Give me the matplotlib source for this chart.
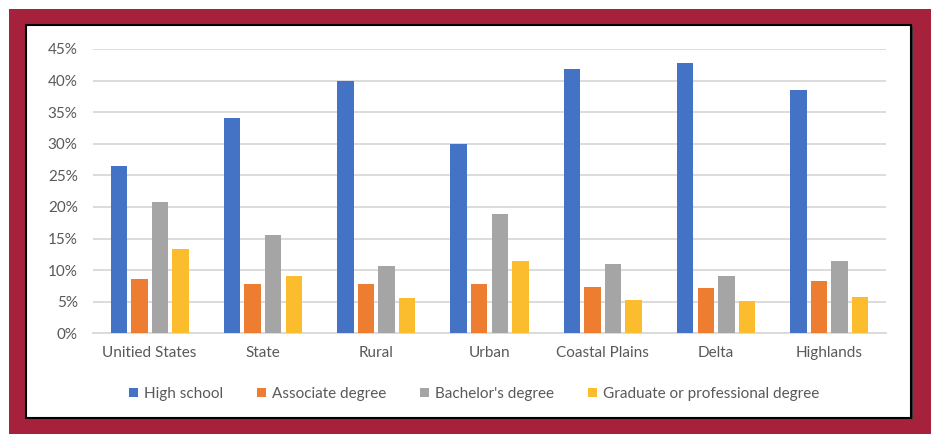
import matplotlib.pyplot as plt
import numpy as np
from matplotlib.patches import Rectangle, Patch
from matplotlib.ticker import PercentFormatter

regions = ['Unitied States', 'State', 'Rural', 'Urban', 'Coastal Plains', 'Delta', 'Highlands']
series = ['High school', 'Associate degree', "Bachelor's degree", 'Graduate or professional degree']
high_school = [26.4, 34.1, 40.0, 30.0, 41.8, 42.7, 38.5]
associate = [8.6, 7.8, 7.8, 7.8, 7.3, 7.1, 8.3]
bachelor = [20.8, 15.5, 10.7, 18.8, 11.0, 9.1, 11.4]
graduate = [13.3, 9.0, 5.6, 11.4, 5.2, 5.1, 5.7]
colors = ['#4472C4', '#ED7D31', '#A5A5A5', '#FBBC2D']

plt.rcParams['font.family'] = ['Lato', 'DejaVu Sans']
txt = '#595959'

fig = plt.figure(figsize=(9.36, 4.34), dpi=100)

# red frame and the white panel with a black edge
fig.patches.append(Rectangle((9/936, 0), 922/936, 425/434, transform=fig.transFigure,
                             facecolor='#A6223C', edgecolor='none', zorder=-3))
fig.patches.append(Rectangle((27/936, 15/434), 886/936, 393/434, transform=fig.transFigure,
                             facecolor='#3a3a3a', edgecolor='none', zorder=-2))
fig.patches.append(Rectangle((26/936, 16/434), 885/936, 393/434, transform=fig.transFigure,
                             facecolor='white', edgecolor='black', linewidth=1.5, zorder=-1))

ax = fig.add_axes([93/936, (434-333.3)/434, 793/936, 284.4/434])
ax.set_zorder(1)
ax.set_facecolor('none')

x = np.arange(len(regions))
pitch = 0.182
width = 0.145
for i, (vals, c) in enumerate(zip([high_school, associate, bachelor, graduate], colors)):
    ax.bar(x + (i - 1.5) * pitch, np.array(vals) / 100, width, color=c, zorder=3)

ax.set_xlim(-0.5, len(regions) - 0.5)
ax.set_ylim(0, 0.45)
ax.set_yticks(np.arange(0, 0.451, 0.05))
ax.yaxis.set_major_formatter(PercentFormatter(1.0, decimals=0))
ax.grid(axis='y', color='#D9D9D9', linewidth=1.3, zorder=0)
ax.set_xticks(x)
ax.set_xticklabels(regions)
ax.tick_params(axis='both', length=0, colors=txt, labelsize=11)
ax.tick_params(axis='x', pad=9)
ax.tick_params(axis='y', pad=11)
for s in ['top', 'right', 'left']:
    ax.spines[s].set_visible(False)
ax.spines['bottom'].set_color('#D9D9D9')
ax.spines['bottom'].set_linewidth(1.3)

handles = [Patch(facecolor=c, edgecolor='none') for c in colors]
fig.legend(handles, series, loc='center', bbox_to_anchor=(474/936, (434-394)/434), ncol=4,
           frameon=False, fontsize=11, labelcolor=txt, handlelength=0.6, handleheight=0.6,
           handletextpad=0.4, columnspacing=2.2)

fig.savefig('out.png', dpi=100)
